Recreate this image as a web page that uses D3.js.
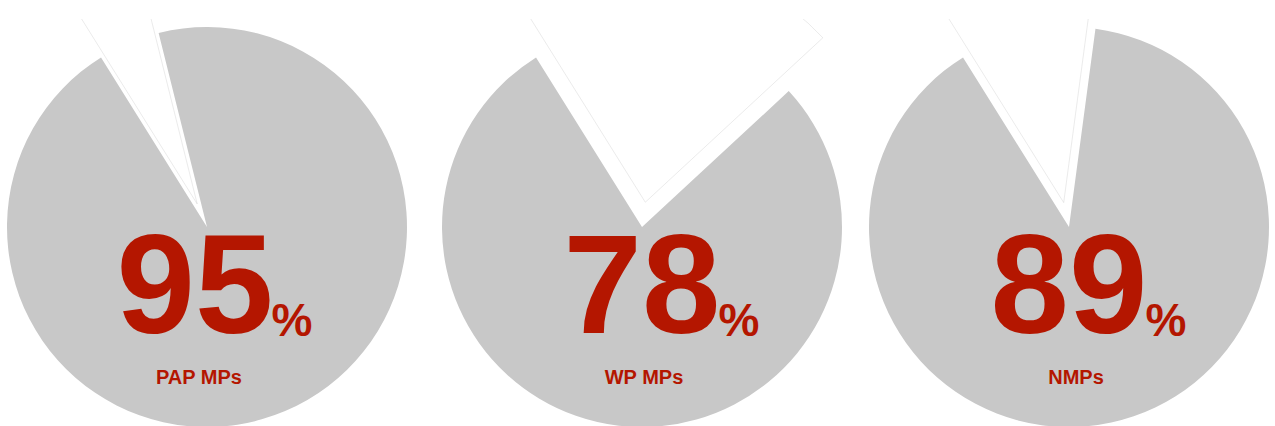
<!DOCTYPE html>
<html>
<head>
<meta charset="utf-8">
<script src="https://cdn.jsdelivr.net/npm/d3@7"></script>
<style>
  body { margin: 0; background: #fff; }
  svg { display: block; margin-top: 19px; overflow: hidden; }
  text { font-family: "Liberation Sans", Arial, Helvetica, sans-serif; font-weight: bold; fill: #b41600; }
</style>
</head>
<body>
<div id="chart"></div>
<script>
// datos
const groups = ['PAP MPs', 'WP MPs', 'NMPs'];
const percents = [95, 78, 89];

// layout
const width = 1275, height = 407;
const centersX = [207, 642, 1069];
const centerY = 208;
const radius = 200;
const bigRadius = 242;     // tajada separada un poco mas grande
const explode = 25;
const startDeg = -32;
const numberNudge = [-12, 0, 0];
const labelNudge = [-8, 2, 7];

const svg = d3.select('#chart')
    .append('svg')
    .attr('width', width)
    .attr('height', height);

const pie = d3.pie()
    .sort(null)
    .startAngle(startDeg * Math.PI / 180)
    .endAngle(startDeg * Math.PI / 180 + 2 * Math.PI);

const arcSmall = d3.arc().innerRadius(0).outerRadius(radius);
const arcBig = d3.arc().innerRadius(0).outerRadius(bigRadius);

groups.forEach((g, i) => {
    const p = percents[i];
    const slices = pie([100 - p, p]);

    const grp = svg.append('g')
        .attr('transform', `translate(${centersX[i]}, ${centerY})`);

    // tajada gris (el porcentaje)
    grp.append('path')
        .attr('d', arcSmall(slices[1]))
        .style('fill', '#c8c8c8');

    // tajada blanca separada
    const mid = (slices[0].startAngle + slices[0].endAngle) / 2;
    grp.append('path')
        .attr('transform', `translate(${Math.sin(mid) * explode}, ${-Math.cos(mid) * explode})`)
        .attr('d', arcBig(slices[0]))
        .style('fill', '#fff')
        .style('stroke', '#c4c4c4')
        .style('stroke-width', 0.35);

    // numero grande
    const num = grp.append('text')
        .attr('x', numberNudge[i])
        .attr('y', 333 - 19 - centerY)
        .attr('text-anchor', 'middle')
        .style('font-size', '141px')
        .text(p);

    const len = num.node().getComputedTextLength();
    grp.append('text')
        .attr('x', numberNudge[i] + len / 2 - 2)
        .attr('y', 336 - 19 - centerY)
        .style('font-size', '46px')
        .text('%');

    grp.append('text')
        .attr('x', labelNudge[i])
        .attr('y', 384 - 19 - centerY)
        .attr('text-anchor', 'middle')
        .style('font-size', '20px')
        .text(g);
});
</script>
</body>
</html>
